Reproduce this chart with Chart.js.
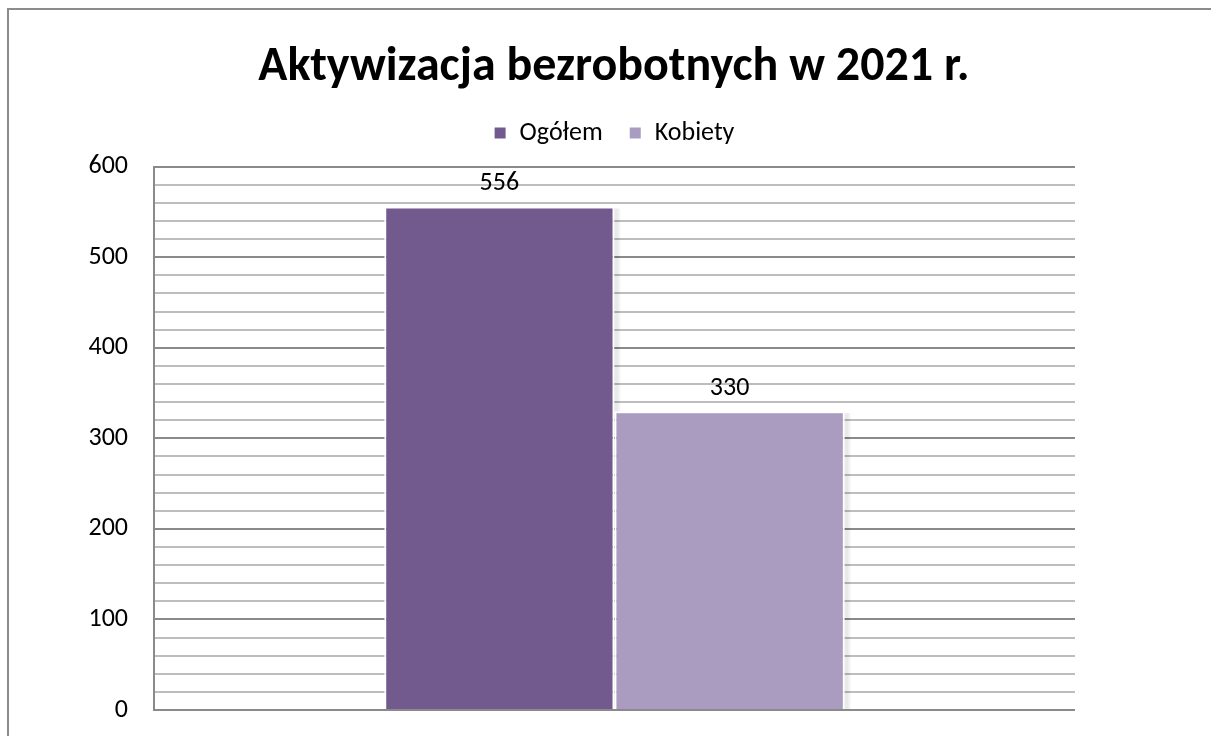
<!DOCTYPE html>
<html>
<head>
<meta charset="utf-8">
<script src="https://cdn.jsdelivr.net/npm/chart.js@4/dist/chart.umd.min.js"></script>
<style>
html,body{margin:0;padding:0;background:#fff;overflow:hidden;}
#wrap{position:relative;width:1211px;height:736px;}
#frame{position:absolute;left:7px;top:8px;width:1300px;height:900px;border-left:2px solid #8c8c8c;border-top:2px solid #8c8c8c;box-sizing:border-box;pointer-events:none;}
canvas{position:absolute;left:0;top:0;}
</style>
</head>
<body>
<div id="wrap">
<canvas id="c" width="1211" height="736"></canvas>
<div id="frame"></div>
</div>
<script>
const titleText = 'Aktywizacja bezrobotnych w 2021 r.';
const categories = [''];
const seriesNames = ['Ogółem', 'Kobiety'];
const ogolemValues = [556];
const kobietyValues = [330];
const yTickLabels = [0, 100, 200, 300, 400, 500, 600];

const FONT = 'Carlito, Calibri, Lato, "Open Sans", sans-serif';

const labelPlugin = {
  id: 'valueLabels',
  afterDatasetsDraw(chart) {
    const ctx = chart.ctx;
    ctx.save();
    ctx.font = '26px ' + FONT;
    ctx.fillStyle = '#000';
    ctx.textAlign = 'center';
    ctx.textBaseline = 'bottom';
    chart.data.datasets.forEach((ds, i) => {
      chart.getDatasetMeta(i).data.forEach((bar, j) => {
        ctx.fillText(String(ds.data[j]), bar.x, bar.y - 10);
      });
    });
    ctx.restore();
  }
};

const shadowPlugin = {
  id: 'barShadow',
  beforeDatasetsDraw(chart) {
    const ctx = chart.ctx;
    ctx.save();
    chart.data.datasets.forEach((ds, i) => {
      chart.getDatasetMeta(i).data.forEach(bar => {
        const w = bar.width;
        const l = bar.x - w / 2, t = bar.y, b = bar.base;
        ctx.fillStyle = 'rgba(0,0,0,0.05)';
        ctx.fillRect(l + 2, t + 2, w + 2, b - t - 2);
        ctx.fillStyle = 'rgba(0,0,0,0.04)';
        ctx.fillRect(l + 2, t + 2, w + 4, b - t - 2);
      });
    });
    ctx.restore();
  }
};

const headerPlacement = {
  id: 'headerPlacement',
  beforeInit(chart) {
    const origFit = chart.legend.fit;
    chart.legend.fit = function () {
      origFit.call(this);
      this.height = 57;
    };
  },
  afterUpdate(chart) {
    const L = 153, R = 1075;
    [chart.titleBlock, chart.legend].forEach(b => {
      if (!b) return;
      b.left = L; b.right = R; b.width = R - L;
    });
    chart.legend.top = 94;
  }
};

new Chart(document.getElementById('c'), {
  type: 'bar',
  data: {
    labels: categories,
    datasets: [
      { label: seriesNames[0], data: ogolemValues, backgroundColor: '#725a8f', borderColor: '#ffffff', borderWidth: 2, borderSkipped: 'bottom' },
      { label: seriesNames[1], data: kobietyValues, backgroundColor: '#aa9bc1', borderColor: '#ffffff', borderWidth: 2, borderSkipped: 'bottom' }
    ]
  },
  options: {
    responsive: false,
    animation: false,
    events: [],
    layout: { padding: { left: 0, right: 136, top: 39, bottom: 26 } },
    datasets: { bar: { barPercentage: 1.0, categoryPercentage: 0.5 } },
    plugins: {
      title: {
        display: true, text: titleText, color: '#000',
        font: { family: FONT, size: 48, weight: 'bold' },
        padding: { top: 0, bottom: 13 }
      },
      legend: {
        display: true, position: 'top',
        labels: {
          color: '#000', font: { family: FONT, size: 26 },
          boxWidth: 13, boxHeight: 13, padding: 26
        }
      },
      tooltip: { enabled: false }
    },
    scales: {
      x: {
        display: false
      },
      y: {
        min: 0, max: 600,
        afterFit(s) { s.width = 154; s.paddingTop = 0; s.paddingBottom = 0; },
        afterBuildTicks(s) {
          const t = [];
          for (let v = 0; v <= 600; v += 20) t.push({ value: v });
          s.ticks = t;
        },
        ticks: {
          color: '#000', font: { family: FONT, size: 26 }, padding: 26,
          autoSkip: false,
          callback: v => yTickLabels.includes(v) ? String(v) : ''
        },
        grid: {
          drawTicks: false,
          color: c => (c.tick && c.tick.value % 100 === 0) ? '#8a8a8a' : '#bdbdbd',
          lineWidth: 2
        },
        border: { display: true, color: '#8a8a8a', width: 2 }
      }
    }
  },
  plugins: [headerPlacement, shadowPlugin, labelPlugin]
});
</script>
</body>
</html>
